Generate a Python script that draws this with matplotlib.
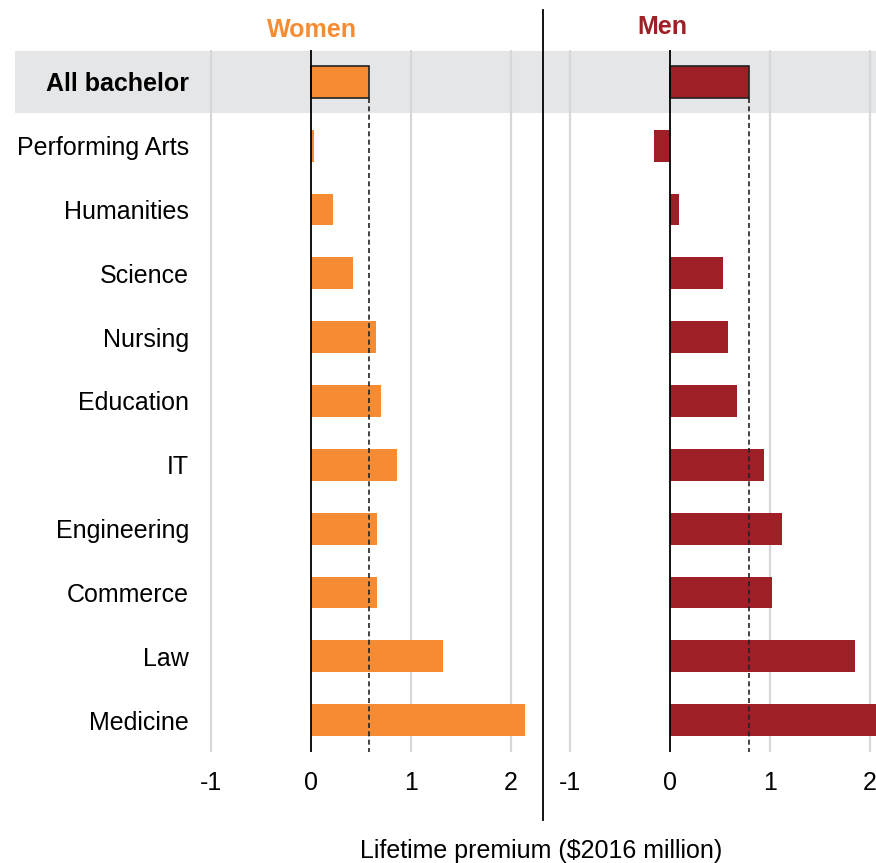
import matplotlib
matplotlib.use("Agg")
import matplotlib.pyplot as plt
from matplotlib.patches import Rectangle
from matplotlib.lines import Line2D

plt.rcParams['font.family'] = ['Liberation Sans', 'DejaVu Sans']

fields = ["All bachelor", "Performing Arts", "Humanities", "Science", "Nursing",
          "Education", "IT", "Engineering", "Commerce", "Law", "Medicine"]
women = [0.58, 0.03, 0.22, 0.42, 0.65, 0.70, 0.86, 0.66, 0.66, 1.32, 2.14]
men = [0.79, -0.16, 0.09, 0.53, 0.58, 0.67, 0.94, 1.12, 1.02, 1.85, 2.25]
ticks = [-1, 0, 1, 2]

orange = "#F58C33"
red = "#9E2026"
grid = "#D6D7D9"
band = "#E5E6E8"

W, H = 876, 863
fig = plt.figure(figsize=(W / 100, H / 100), dpi=100)

def px(x0, y0, x1, y1):
    # pixel box -> figure fraction rect
    return [x0 / W, 1 - y1 / H, (x1 - x0) / W, (y1 - y0) / H]

# grey band behind the "All bachelor" row
fig.patches.append(Rectangle((15 / W, 1 - 113 / H), (W - 15) / W, 62 / H,
                             transform=fig.transFigure, facecolor=band,
                             edgecolor="none", zorder=-5))

ax_w = fig.add_axes(px(196, 50, 543, 752))
ax_m = fig.add_axes(px(545, 50, 876, 752))

ypos = list(range(len(fields)))

def panel(ax, vals, color, xlim):
    ax.set_facecolor("none")
    ax.set_xlim(*xlim)
    ax.set_ylim(len(fields) - 0.5, -0.5)
    for t in ticks:
        if t != 0:
            ax.axvline(t, color=grid, lw=1.6, zorder=1)
    bars = ax.barh(ypos, vals, height=0.5, color=color, zorder=2)
    bars[0].set_edgecolor("#222222")
    bars[0].set_linewidth(1.2)
    ax.axvline(0, color="black", lw=1.3, zorder=3)
    # dashed reference line at the all-bachelor value
    ax.plot([vals[0], vals[0]], [0.25, len(fields) - 0.5], ls=(0, (3, 2)),
            color="#222222", lw=1.2, zorder=4)
    ax.set_xticks(ticks)
    ax.set_xticklabels([str(t) for t in ticks])
    ax.tick_params(axis="x", length=0, pad=14, labelsize=18)
    for s in ax.spines.values():
        s.set_visible(False)

panel(ax_w, women, orange, (-1.15, 2.32))
panel(ax_m, men, red, (-1.25, 2.06))

ax_w.set_yticks(ypos)
ax_w.set_yticklabels(fields)
ax_w.tick_params(axis="y", length=0, pad=5, labelsize=18)
ax_w.get_yticklabels()[0].set_fontweight("bold")
ax_m.set_yticks([])

fig.text(312 / W, 1 - 30 / H, "Women", color=orange, fontsize=18,
         fontweight="bold", ha="center", va="center")
fig.text(662 / W, 1 - 27 / H, "Men", color=red, fontsize=18,
         fontweight="bold", ha="center", va="center")
fig.text(541 / W, 1 - 851 / H, "Lifetime premium ($2016 million)",
         fontsize=18, ha="center", va="center")

fig.lines.append(Line2D([543 / W, 543 / W], [1 - 10 / H, 1 - 820 / H],
                        transform=fig.transFigure, color="black", lw=1.3))

fig.savefig("out.png", dpi=100)
